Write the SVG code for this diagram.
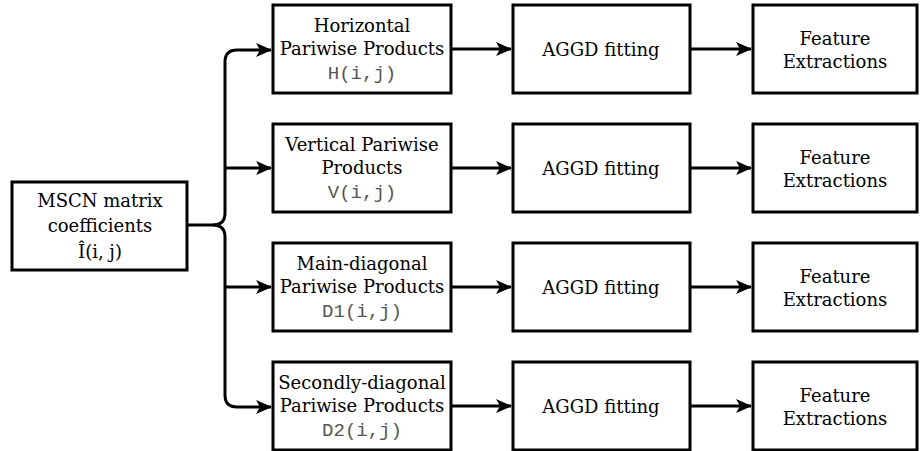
<svg xmlns="http://www.w3.org/2000/svg" width="920" height="451" viewBox="0 0 920 451">
<style>
.box{fill:#fff;stroke:#000;stroke-width:3}
.t{font-family:"DejaVu Serif","Liberation Serif",serif;font-size:18px;fill:#000;text-anchor:middle}
.m{font-family:"Liberation Mono","Courier New",monospace;font-size:19px;fill:#555;text-anchor:middle}
.c{fill:none;stroke:#000;stroke-width:3}
</style>
<defs>
<marker id="ah" markerWidth="16" markerHeight="16" refX="15" refY="8" orient="auto" markerUnits="userSpaceOnUse">
<path d="M0,1 L16,8 L0,15 L4,8 Z" fill="#000"/>
</marker>
</defs>
<g id="connectors">
<path class="c" d="M187,225 H213 Q225,225 225,213 V62 Q225,50 237,50 H271" marker-end="url(#ah)"/>
<path class="c" d="M213,225 Q225,225 225,237 V395 Q225,407 237,407 H271" marker-end="url(#ah)"/>
<path class="c" d="M225,168 H271" marker-end="url(#ah)"/>
<path class="c" d="M225,287 H271" marker-end="url(#ah)"/>
<path class="c" d="M451,49 H511" marker-end="url(#ah)"/>
<path class="c" d="M451,168 H511" marker-end="url(#ah)"/>
<path class="c" d="M451,287 H511" marker-end="url(#ah)"/>
<path class="c" d="M451,406 H511" marker-end="url(#ah)"/>
<path class="c" d="M690,49 H751" marker-end="url(#ah)"/>
<path class="c" d="M690,168 H751" marker-end="url(#ah)"/>
<path class="c" d="M690,287 H751" marker-end="url(#ah)"/>
<path class="c" d="M690,406 H751" marker-end="url(#ah)"/>
</g>
<g id="mscn">
<rect class="box" x="12" y="182" width="175" height="88"/>
<text class="t" x="100" y="207">MSCN matrix</text>
<text class="t" x="100" y="232">coefficients</text>
<text class="t" x="100" y="258">Î(i, j)</text>
</g>
<g id="h">
<rect class="box" x="273" y="5" width="178" height="88"/>
<text class="t" x="362" y="32">Horizontal</text>
<text class="t" x="362" y="55">Pariwise Products</text>
<text class="m" x="362" y="79">H(i,j)</text>
</g>
<g id="v">
<rect class="box" x="273" y="124" width="178" height="88"/>
<text class="t" x="362" y="151">Vertical Pariwise</text>
<text class="t" x="362" y="174">Products</text>
<text class="m" x="362" y="198">V(i,j)</text>
</g>
<g id="d1">
<rect class="box" x="273" y="243" width="178" height="88"/>
<text class="t" x="362" y="270">Main-diagonal</text>
<text class="t" x="362" y="293">Pariwise Products</text>
<text class="m" x="362" y="317">D1(i,j)</text>
</g>
<g id="d2">
<rect class="box" x="273" y="362" width="178" height="88"/>
<text class="t" x="362" y="389">Secondly-diagonal</text>
<text class="t" x="362" y="412">Pariwise Products</text>
<text class="m" x="362" y="436">D2(i,j)</text>
</g>
<g id="aggd1"><rect class="box" x="513" y="5" width="177" height="88"/><text class="t" x="601" y="56">AGGD fitting</text></g>
<g id="aggd2"><rect class="box" x="513" y="124" width="177" height="88"/><text class="t" x="601" y="175">AGGD fitting</text></g>
<g id="aggd3"><rect class="box" x="513" y="243" width="177" height="88"/><text class="t" x="601" y="294">AGGD fitting</text></g>
<g id="aggd4"><rect class="box" x="513" y="362" width="177" height="88"/><text class="t" x="601" y="413">AGGD fitting</text></g>
<g id="fe1"><rect class="box" x="753" y="5" width="164" height="88"/><text class="t" x="835" y="45">Feature</text><text class="t" x="835" y="68">Extractions</text></g>
<g id="fe2"><rect class="box" x="753" y="124" width="164" height="88"/><text class="t" x="835" y="164">Feature</text><text class="t" x="835" y="187">Extractions</text></g>
<g id="fe3"><rect class="box" x="753" y="243" width="164" height="88"/><text class="t" x="835" y="283">Feature</text><text class="t" x="835" y="306">Extractions</text></g>
<g id="fe4"><rect class="box" x="753" y="362" width="164" height="88"/><text class="t" x="835" y="402">Feature</text><text class="t" x="835" y="425">Extractions</text></g>
</svg>
